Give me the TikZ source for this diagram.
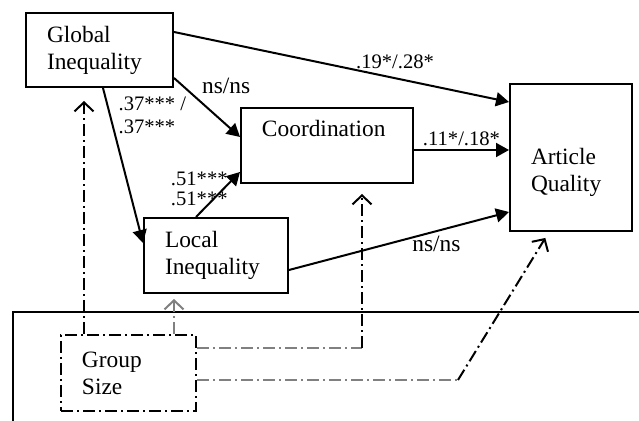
\documentclass[tikz,border=0pt]{standalone}
\usepackage{fontspec}
\setmainfont{Liberation Serif}
\usetikzlibrary{arrows.meta}

\begin{document}
\begin{tikzpicture}[x=0.5pt, y=-0.5pt,
	every node/.style={font=\fontsize{11.7}{13.5}\selectfont},
	box/.style={draw, line width=1pt, align=left, inner xsep=10.5pt, inner ysep=0pt},
	lab/.style={font=\fontsize{10.3}{11.3}\selectfont, inner sep=1.5pt, align=left},
	effect/.style={line width=1pt, -{Triangle[length=6.5pt,width=7pt]}},
	ctrl/.style={line width=1pt, dash pattern=on 6pt off 2pt on 1pt off 2pt},
	openarrow/.style={-{Straight Barb[length=4.5pt,width=9.5pt]}}]
	\useasboundingbox (0,0) rectangle (639,421);
	\draw[line width=1pt] (13,421) -- (13,312) -- (639,312);
	% boxes
	\node[box, text width=52.5pt, minimum height=37pt] (glob) at (99.5,50) {Global\\Inequality};
	\node[box, text width=65pt, minimum height=37.5pt] (coord) at (327,145.5) {Coordination\\\strut};
	\node[box, text width=40pt, minimum height=73.5pt] (art) at (571,157.5) {\strut\\Article\\Quality};
	\node[box, text width=51pt, minimum height=37.5pt] (loc) at (216,255.5) {Local\\Inequality};
	\node[box, ctrl, text width=46.5pt, minimum height=38pt] (grp) at (128.5,373) {Group\\Size};
	% paths
	\draw[effect] ([yshift=9pt]glob.east) -- node[lab, pos=.66, above, yshift=2.5pt] {.19*/.28*} ([yshift=27.75pt]art.west);
	\draw[effect] ([yshift=5pt]glob.south east) -- node[pos=.35, anchor=south west, inner sep=2pt] {ns/ns} ([yshift=4.25pt]coord.west);
	\draw[effect] ([xshift=1.75pt]glob.south) -- node[lab, pos=.176, anchor=west, inner xsep=3.8pt] {.37*** /\\.37***} ([yshift=6.25pt]loc.west);
	\draw[effect] ([xshift=-10pt]loc.north) -- node[lab, pos=.62, xshift=-12pt, font=\fontsize{10.3}{10}\selectfont] {.51***\\.51***} ([yshift=6pt]coord.south west);
	\draw[effect] ([yshift=-2.25pt]coord.east) -- node[lab, above] {.11*/.18*} ([yshift=3.75pt]art.west);
	\draw[effect] ([yshift=-7.25pt]loc.east) -- node[pos=.67, below, inner sep=2pt] {ns/ns} ([yshift=10pt]art.south west);
	% group size
	\coordinate (gs1) at ([xshift=-22.25pt]grp.north);
	\coordinate (gs2) at ([xshift=22.75pt]grp.north);
	\coordinate (gs3) at ([yshift=12.5pt]grp.east);
	\coordinate (gs4) at ([yshift=-3.5pt]grp.east);
	\coordinate (cs) at ([xshift=17.5pt]coord.south);
	\coordinate (bend1) at (cs |- gs3);
	\coordinate (bend2) at ([xshift=130.5pt]gs4);
	\coordinate (as) at ([xshift=-11pt]art.south);
	\draw[ctrl, openarrow, shorten >=6.5pt] (gs1) -- (gs1 |- glob.south);
	\draw[ctrl, gray, openarrow, shorten >=2.5pt] (gs2) -- (gs2 |- loc.south);
	\draw[ctrl, gray] (gs3) -- (bend1);
	\draw[ctrl, openarrow, shorten >=5pt] (bend1) -- (cs);
	\draw[ctrl, gray] (gs4) -- (bend2);
	\draw[ctrl, openarrow, shorten >=3.5pt] (bend2) -- (as);
\end{tikzpicture}
\end{document}
